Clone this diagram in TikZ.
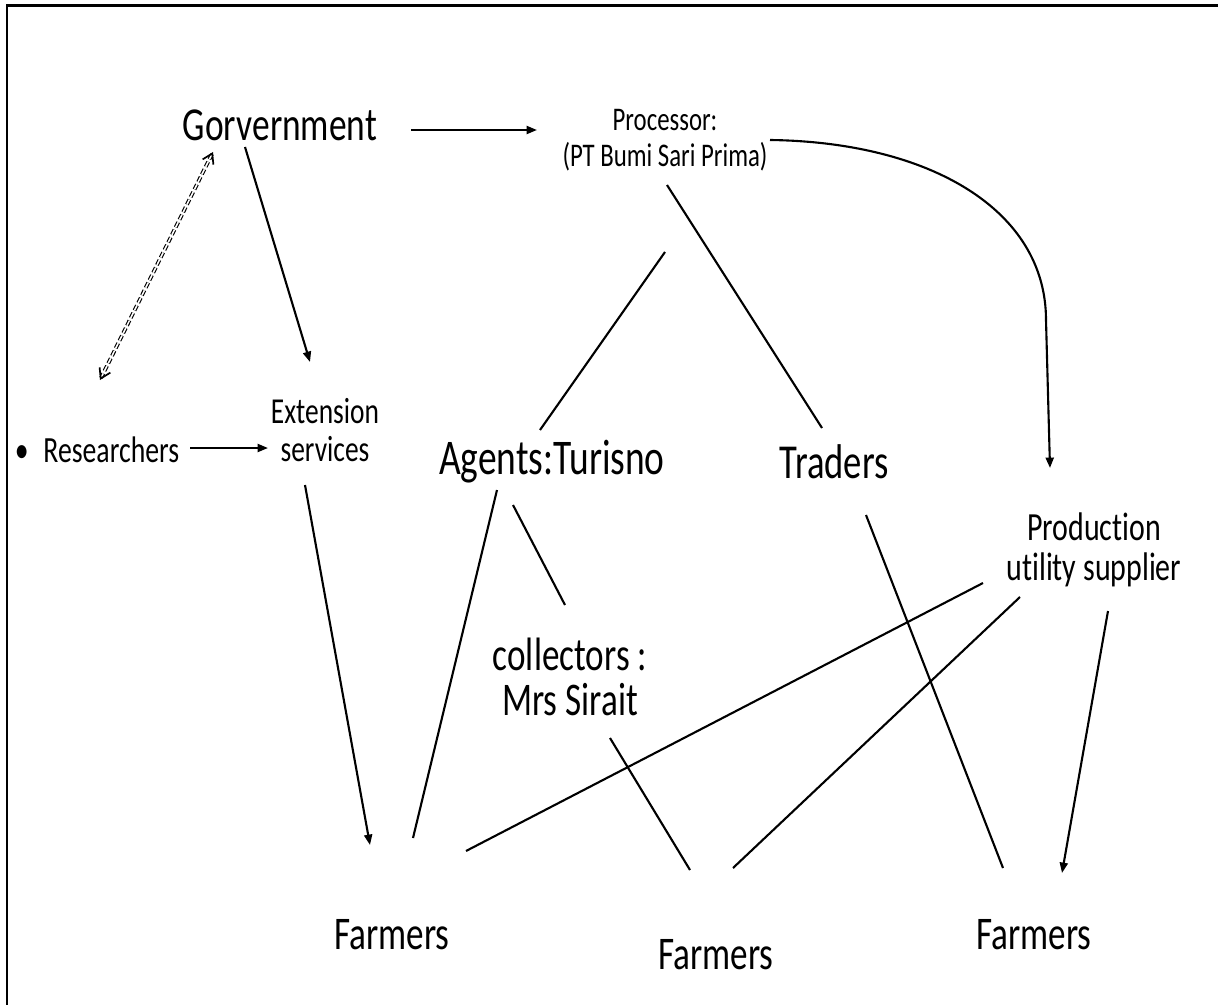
\documentclass[tikz,border=0pt]{standalone}
\usepackage{fontspec}
\setmainfont{Carlito}[FakeStretch=0.75, Ligatures=NoCommon]
\usetikzlibrary{arrows.meta}

\begin{document}
\begin{tikzpicture}[
  x=0.025cm, y=-0.025cm,
  lbl/.style 2 args={font=\fontsize{#1}{#2}\selectfont, align=center, inner sep=0pt},
  link/.style={line width=1.5pt},
  flow/.style={link, -{Triangle[length=2.6mm, width=2mm]}},
  twoway/.style={double, double distance=1.1pt, line width=0.8pt, dash pattern=on 4pt off 2pt,
    {Straight Barb[length=2.4mm, width=3mm, line width=1.2pt]}-{Straight Barb[length=2.4mm, width=3mm, line width=1.2pt]}}
]
\useasboundingbox (0,0) rectangle (1218,1005);

% frame (left and top edges only)
\draw[line width=1.5pt] (7,1005) -- (7,5.5) -- (1218,5.5);

% actors
\node[lbl={33.6}{36}] (gov) at (280,125) {Gorvernment};
\node[lbl={23.5}{26}] (proc) at (665,140) {Processor:\\(PT Bumi Sari Prima)};
\node[lbl={26.3}{30}] (res) at (97,450) {\textbullet\hspace{0.4em}Researchers};
\node[lbl={26}{26.5}] (ext) at (325,430) {Extension\\services};
\node[lbl={35.5}{36}] (agt) at (552,462) {Agents:Turisno};
\node[lbl={34.7}{36}] (trd) at (834,462) {Traders};
\node[lbl={28.4}{28}] (prod) at (1094,550) {Production\\utility supplier};
\node[lbl={33.3}{32}] (col) at (570,677) {collectors :\\Mrs Sirait};

% farmers
\node[lbl={33.3}{36}] (f1) at (392,935) {Farmers};
\node[lbl={33.3}{36}] (f2) at (716,955) {Farmers};
\node[lbl={33.3}{36}] (f3) at (1034,935) {Farmers};

% arrows
\draw[flow] ([shift={(131,5)}]gov.center) -- ([shift={(-128,-10)}]proc.center);
\draw[flow] ([shift={(-35,22)}]gov.center) -- ([shift={(-15,-68)}]ext.center);
\draw[twoway] ([shift={(-67,27)}]gov.center) -- ([shift={(3,-70)}]res.center);
\draw[flow] ([shift={(93,-2)}]res.center) -- ([shift={(-57,18)}]ext.center);
\draw[flow] ([shift={(-20,55)}]ext.center) -- ([shift={(-22,-90)}]f1.center);
\draw[flow] ([shift={(105,0)}]proc.center) .. controls (930,142) and (1046,210) .. (1046,320)
  -- ([shift={(-44,-82)}]prod.center);
\draw[flow] ([shift={(14,61)}]prod.center) -- ([shift={(28,-62)}]f3.center);

% plain links
\draw[link] ([shift={(0,112)}]proc.center) -- ([shift={(-12,-32)}]agt.center);
\draw[link] ([shift={(2,45)}]proc.center) -- ([shift={(-12,-34)}]trd.center);
\draw[link] ([shift={(-55,28)}]agt.center) -- ([shift={(21,-97)}]f1.center);
\draw[link] ([shift={(-39,43)}]agt.center) -- ([shift={(-5,-72)}]col.center);
\draw[link] ([shift={(32,53)}]trd.center) -- ([shift={(-31,-67)}]f3.center);
\draw[link] ([shift={(-111,33)}]prod.center) -- ([shift={(74,-84)}]f1.center);
\draw[link] ([shift={(-74,47)}]prod.center) -- ([shift={(17,-87)}]f2.center);
\draw[link] ([shift={(40,61)}]col.center) -- ([shift={(-26,-85)}]f2.center);

\end{tikzpicture}
\end{document}
